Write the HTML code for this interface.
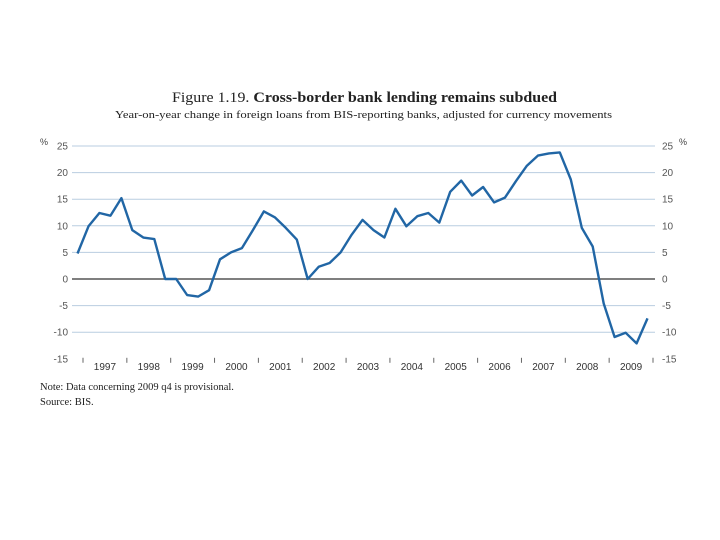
<!DOCTYPE html>
<html><head><meta charset="utf-8"><style>
html,body{margin:0;padding:0;background:#fff;}
svg{display:block;}
</style></head><body>
<svg id="chart" width="720" height="540" xmlns="http://www.w3.org/2000/svg">
<text x="172" y="102" font-family="Liberation Serif, serif" font-size="15" fill="#222" textLength="385" lengthAdjust="spacingAndGlyphs">Figure 1.19.  <tspan font-weight="bold">Cross-border bank lending remains subdued</tspan></text>
<text x="115" y="118" font-family="Liberation Serif, serif" font-size="11" fill="#222" textLength="497" lengthAdjust="spacingAndGlyphs">Year-on-year change in foreign loans from BIS-reporting banks, adjusted for currency movements</text>
<text x="40" y="145" font-family="Liberation Sans, sans-serif" font-size="9" fill="#444">%</text>
<text x="679" y="145" font-family="Liberation Sans, sans-serif" font-size="9" fill="#444">%</text>
<g id="grid"></g>
<g id="xaxis"></g>
<path id="line" fill="none" stroke="#2166a5" stroke-width="2.4" stroke-linejoin="round"/>
<text x="40" y="390" font-family="Liberation Serif, serif" font-size="10.5" fill="#222">Note: Data concerning 2009 q4 is provisional.</text>
<text x="40" y="405" font-family="Liberation Serif, serif" font-size="10.5" fill="#222">Source: BIS.</text>
</svg>
<script>
const yTicks = [25,20,15,10,5,0,-5,-10,-15];
const years = [1997,1998,1999,2000,2001,2002,2003,2004,2005,2006,2007,2008,2009];
const firstQuarterOffset = -1; // series begins 1996 q4
const values = [4.8,9.9,12.4,11.9,15.2,9.2,7.8,7.5,0,0,-3.0,-3.3,-2.1,3.7,5.0,5.8,9.2,12.7,11.6,9.6,7.4,0,2.3,3.0,5.0,8.3,11.1,9.2,7.8,13.2,9.9,11.8,12.4,10.6,16.4,18.5,15.7,17.3,14.4,15.3,18.4,21.3,23.2,23.6,23.8,18.7,9.6,6.1,-4.6,-10.9,-10.1,-12.1,-7.4];

const NS='http://www.w3.org/2000/svg';
const X0=72, X1=655, Y25=146, Y0=279;
const yS = v => Y0 - (Y0-Y25)/25*v;
const yearStart=83, yearW=(653-83)/years.length;
const xQ = q => yearStart + (q+0.5)*yearW/4;
const grid=document.getElementById('grid');
const xa=document.getElementById('xaxis');
const yMin=Math.min(...yTicks);
function mk(tag,attrs,parent){const e=document.createElementNS(NS,tag);for(const k in attrs)e.setAttribute(k,attrs[k]);parent.appendChild(e);return e;}
yTicks.forEach(v=>{
  const y=yS(v);
  if(v!==yMin){
    const l=mk('line',{x1:X0,x2:X1,y1:y,y2:y,stroke:v===0?'#333':'#b9cde0','stroke-width':v===0?1.3:1},grid);
    
    
  }
  const tl=mk('text',{x:68,y:y+3.5,'text-anchor':'end','font-family':'Liberation Sans, sans-serif','font-size':10,fill:'#555'},grid);
  tl.textContent=v;
  
  
  const tr=mk('text',{x:662,y:y+3.5,'font-family':'Liberation Sans, sans-serif','font-size':10,fill:'#555'},grid);
  tr.textContent=v;
  
  
});
const yb=yS(yMin);
for(let i=0;i<=years.length;i++){
  const x=yearStart+i*yearW;
  const t=mk('line',{x1:x,x2:x,y1:yb-1,y2:yb+4,stroke:'#666','stroke-width':1},xa);
  
  
}
years.forEach((yr,i)=>{
  const t=mk('text',{x:yearStart+(i+0.5)*yearW,y:yb+11,'text-anchor':'middle','font-family':'Liberation Sans, sans-serif','font-size':10,fill:'#333'},xa);
  t.textContent=yr;
  
  
});
document.getElementById('line').setAttribute('d', values.map((v,i)=>(i?'L':'M')+xQ(i+firstQuarterOffset).toFixed(1)+','+yS(v).toFixed(1)).join(''));
</script>
</body></html>
